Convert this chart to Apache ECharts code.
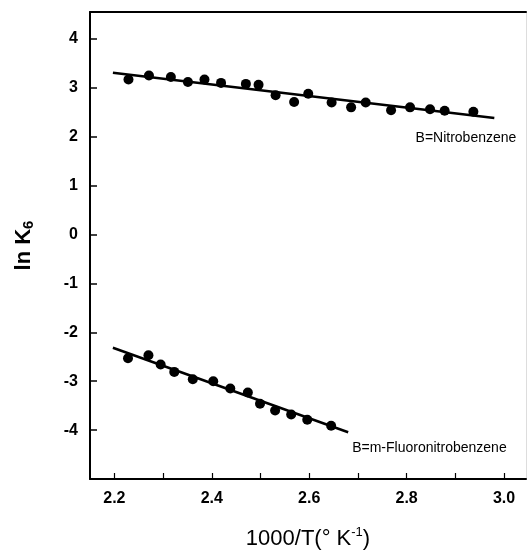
<!DOCTYPE html>
<html>
<head>
<meta charset="utf-8">
<script src="https://cdn.jsdelivr.net/npm/echarts@6/dist/echarts.min.js"></script>
<style>
	html, body { margin: 0; padding: 0; background: #fff; }
	#chart { width: 527px; height: 550px; }
</style>
</head>
<body>
<div id="chart"></div>
<script>
// B=Nitrobenzene 数据点
var nitroX = [2.229, 2.271, 2.316, 2.351, 2.385, 2.419, 2.470, 2.496, 2.531, 2.569, 2.598, 2.646, 2.686, 2.716, 2.768, 2.807, 2.848, 2.878, 2.937];
var nitroY = [3.17, 3.25, 3.22, 3.12, 3.17, 3.10, 3.08, 3.06, 2.85, 2.71, 2.88, 2.70, 2.60, 2.70, 2.54, 2.60, 2.56, 2.53, 2.51];
var nitroFitX = [2.197, 2.980];
var nitroFitY = [3.307, 2.384];

// B=m-Fluoronitrobenzene 数据点
var fluoroX = [2.228, 2.270, 2.295, 2.323, 2.361, 2.403, 2.438, 2.474, 2.499, 2.530, 2.563, 2.596, 2.645];
var fluoroY = [-2.53, -2.47, -2.66, -2.81, -2.96, -3.00, -3.15, -3.23, -3.46, -3.60, -3.68, -3.79, -3.91];
var fluoroFitX = [2.197, 2.680];
var fluoroFitY = [-2.317, -4.045];

// 坐标轴刻度
var xTickValues = [2.2, 2.3, 2.4, 2.5, 2.6, 2.7, 2.8, 2.9, 3.0];
var xLabelValues = [2.2, 2.4, 2.6, 2.8, 3.0];
var yTickValues = [-4, -3, -2, -1, 0, 1, 2, 3, 4];

function pairs(xs, ys) {
	var out = [];
	for (var i = 0; i < xs.length; i++) {
		out.push([xs[i], ys[i]]);
	}
	return out;
}

var chart = echarts.init(document.getElementById("chart"));
var font = "Liberation Sans, Arial, sans-serif";

var option = {
	backgroundColor: "#fff",
	animation: false,
	grid: {
		left: 90,
		top: 12,
		width: 436,
		height: 467,
		outerBoundsMode: "none",
		containLabel: false
	},
	xAxis: [{
		type: "value",
		min: 2.15,
		max: 3.045,
		splitLine: { show: false },
		axisLine: { onZero: false, lineStyle: { color: "#000", width: 2 } },
		axisTick: {
			inside: true,
			length: 6,
			customValues: xTickValues,
			lineStyle: { color: "#000", width: 1.2 }
		},
		axisLabel: {
			customValues: xLabelValues,
			formatter: function(v) { return v.toFixed(1); },
			color: "#000",
			fontFamily: font,
			fontSize: 16,
			fontWeight: "bold",
			margin: 12
		},
		name: "1000/T(° K{sup|-1})",
		nameLocation: "middle",
		nameGap: 47,
		nameTextStyle: {
			color: "#000",
			fontFamily: font,
			fontSize: 22,
			rich: {
				sup: { fontSize: 13, verticalAlign: "top", padding: [0, 0, 12, 0], fontFamily: font, color: "#000" }
			}
		}
	}, {
		type: "value",
		position: "top",
		min: 2.15,
		max: 3.045,
		splitLine: { show: false },
		axisLine: { onZero: false, lineStyle: { color: "#000", width: 2 } },
		axisTick: { show: false },
		axisLabel: { show: false }
	}],
	yAxis: [{
		type: "value",
		min: -5,
		max: 4.55,
		splitLine: { show: false },
		axisLine: { onZero: false, lineStyle: { color: "#000", width: 2 } },
		axisTick: {
			inside: true,
			length: 7,
			customValues: yTickValues,
			lineStyle: { color: "#000", width: 1.5 }
		},
		axisLabel: {
			customValues: yTickValues,
			color: "#000",
			fontFamily: font,
			fontSize: 16,
			fontWeight: "bold",
			margin: 12
		},
		name: "ln K{sub|6}",
		nameLocation: "middle",
		nameGap: 54,
		nameTextStyle: {
			color: "#000",
			fontFamily: font,
			fontSize: 22,
			fontWeight: "bold",
			rich: {
				sub: { fontSize: 15, fontWeight: "bold", verticalAlign: "bottom", padding: [10, 0, 0, 0], fontFamily: font, color: "#000" }
			}
		}
	}, {
		type: "value",
		position: "right",
		min: -5,
		max: 4.55,
		splitLine: { show: false },
		axisLine: { onZero: false, lineStyle: { color: "#ddd", width: 1 } },
		axisTick: { show: false },
		axisLabel: { show: false }
	}],
	series: [{
		name: "Nitrobenzene fit",
		type: "line",
		data: pairs(nitroFitX, nitroFitY),
		symbol: "none",
		lineStyle: { color: "#000", width: 2.5 },
		endLabel: {
			show: true,
			formatter: "B=Nitrobenzene",
			color: "#000",
			fontFamily: font,
			fontSize: 14,
			align: "right",
			offset: [14, 20]
		}
	}, {
		name: "Nitrobenzene",
		type: "scatter",
		data: pairs(nitroX, nitroY),
		symbolSize: 10,
		itemStyle: { color: "#000", opacity: 1 }
	}, {
		name: "Fluoro fit",
		type: "line",
		data: pairs(fluoroFitX, fluoroFitY),
		symbol: "none",
		lineStyle: { color: "#000", width: 2.5 },
		endLabel: {
			show: true,
			formatter: "B=m-Fluoronitrobenzene",
			color: "#000",
			fontFamily: font,
			fontSize: 14,
			align: "left",
			offset: [-4, 16]
		}
	}, {
		name: "Fluoro",
		type: "scatter",
		data: pairs(fluoroX, fluoroY),
		symbolSize: 10,
		itemStyle: { color: "#000", opacity: 1 }
	}]
};

chart.setOption(option);
</script>
</body>
</html>
